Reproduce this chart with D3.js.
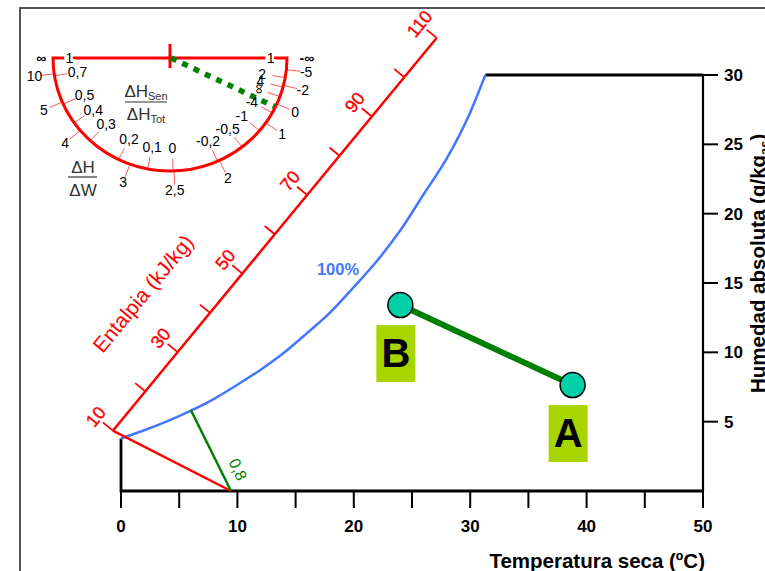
<!DOCTYPE html>
<html><head><meta charset="utf-8">
<script src="https://cdn.jsdelivr.net/npm/d3@7"></script>
<style>body{margin:0;background:#fff} svg{display:block} text{font-family:"Liberation Sans",Arial,sans-serif}</style>
</head><body><svg id="c" width="765" height="571"></svg>
<script>
// ---- data ----
const satTemp = [0,2,4,6,8,10,12,14,16,18,20,22,24,26,28,30,31.3];
const satHum  = [3.79,4.38,5.04,5.79,6.65,7.66,8.75,9.97,11.4,12.9,14.7,16.6,18.8,21.4,24.0,27.3,30];
const xTicks  = [0,5,10,15,20,25,30,35,40,45,50];
const xLabels = [0,10,20,30,40,50];
const yTicks  = [5,10,15,20,25,30];
const pointNames = ["A","B"];
const pointTemp  = [38.8, 24.0];
const pointHum   = [7.64, 13.41];
const enthalpyTicks  = [10,20,30,40,50,60,70,80,90,100,110];
const enthalpyLabels = [10,30,50,70,90,110];
const h10Temp = [-0.7, 9.45];
const h10Hum  = [4.35, 0];
const shfTemp = [6.0, 9.45];
const shfHum  = [5.84, 0];
const shfLabel = "0,8";
// protractor scales (angle in degrees along the half circle, 0 = left end)
const innerLabels = ["1","0,7","0,5","0,4","0,3","0,2","0,1","0","-0,2","-0,5","-1","-4","∞","4","2","1"];
const innerAngles = [0,9,24,35,47,64,79,91.5,114,128,140,151,160,165,170,180];
const outerLabels = ["∞","10","5","4","3","2,5","2","1","0","-2","-5","-∞"];
const outerAngles = [0,8,23,40,70,92,115,145,156,166,174,180];

// ---- drawing ----
const svg = d3.select("#c");
const x = d3.scaleLinear().domain([0,50]).range([121,703]);
const y = d3.scaleLinear().domain([0,30]).range([491,75]);

// outer frame
svg.append("path").attr("d","M20,571 L20,8 L765,8").attr("fill","none").attr("stroke","#555").attr("stroke-width",2);

const blk = {stroke:"#000","stroke-width":2.8,fill:"none"};
function line(pts, attrs){ const p = svg.append("path").attr("d", d3.line()(pts)); for (const k in attrs) p.attr(k, attrs[k]); return p; }
line([[x(0),y(satHum[0])],[x(0),y(0)],[x(50),y(0)]], blk);
line([[x(satTemp[satTemp.length-1]),y(30)],[x(50),y(30)]], blk);
line([[x(50),y(0)],[x(50),y(30)]], {stroke:"#000","stroke-width":2.2,fill:"none"});

// x axis ticks
xTicks.forEach(t => line([[x(t),y(0)],[x(t),y(0)+17]], {stroke:"#000","stroke-width":2}));
svg.selectAll(".xl").data(xLabels).enter().append("text")
  .attr("x", d=>x(d)).attr("y", 532).attr("text-anchor","middle")
  .attr("font-size",17).attr("font-weight","bold").text(d=>d);
svg.append("text").attr("x",705).attr("y",568).attr("text-anchor","end")
  .attr("font-size",20.5).attr("font-weight","bold").text("Temperatura seca (ºC)");

// y axis (right)
yTicks.forEach(t => line([[x(50),y(t)],[x(50)+15,y(t)]], {stroke:"#000","stroke-width":2}));
svg.selectAll(".yl").data(yTicks).enter().append("text")
  .attr("x", 724).attr("y", d=>y(d)+6).attr("font-size",17).attr("font-weight","bold").text(d=>d);
const yt = svg.append("text").attr("transform","translate(765,393) rotate(-90)")
  .attr("font-size",20.5).attr("font-weight","bold");
yt.append("tspan").text("Humedad absoluta (g/kg");
yt.append("tspan").attr("font-size",13).attr("dy",4).text("as");
yt.append("tspan").attr("dy",-4).text(")");

// saturation curve
const satPts = satTemp.map((t,i)=>[x(t),y(satHum[i])]);
svg.append("path").attr("d", d3.line().curve(d3.curveMonotoneX)(satPts))
  .attr("fill","none").attr("stroke","#4477ff").attr("stroke-width",2.5);
svg.append("text").attr("x",338).attr("y",275).attr("text-anchor","middle")
  .attr("font-size",16.5).attr("font-weight","bold").attr("fill","#4477ff").text("100%");

// enthalpy 10 line & SHF line
line(h10Temp.map((t,i)=>[x(t),y(h10Hum[i])]), {stroke:"#ff0000","stroke-width":2.5,fill:"none"});
line(shfTemp.map((t,i)=>[x(t),y(shfHum[i])]), {stroke:"#008000","stroke-width":2.5,fill:"none"});
{
  const mx = (x(shfTemp[0])+x(shfTemp[1]))/2, my = (y(shfHum[0])+y(shfHum[1]))/2;
  svg.append("text").attr("transform",`translate(${mx+27},${my+19}) rotate(65)`)
    .attr("text-anchor","middle").attr("dominant-baseline","central")
    .attr("font-size",16).attr("fill","#008000").text(shfLabel);
}

// enthalpy axis
{
  const ox = x(h10Temp[0]), oy = y(h10Hum[0]);
  const ang = -50.5*Math.PI/180;
  const ux = Math.cos(ang), uy = Math.sin(ang);
  const nx = uy, ny = -ux; // perpendicular to upper-left
  const hs = d3.scaleLinear().domain([10,110]).range([0,509]);
  const P = (h, off=0) => [ox + ux*hs(h) + nx*off, oy + uy*hs(h) + ny*off];
  line([P(10),P(110)], {stroke:"#ff0000","stroke-width":2.5,fill:"none"});
  enthalpyTicks.forEach(h => line([P(h),P(h,13)], {stroke:"#ff0000","stroke-width":1.8}));
  enthalpyLabels.forEach(h => {
    const p = P(h,22);
    svg.append("text").attr("transform",`translate(${p[0]},${p[1]}) rotate(-50.5)`)
      .attr("text-anchor","middle").attr("dominant-baseline","central")
      .attr("font-size",18).attr("fill","#ff0000").attr("stroke","#ff0000").attr("stroke-width",0.4).text(h);
  });
  const t = P(hs.invert(125),64);
  svg.append("text").attr("transform",`translate(${t[0]},${t[1]}) rotate(-50.5)`)
    .attr("text-anchor","middle").attr("dominant-baseline","central")
    .attr("font-size",21).attr("fill","#ff0000").text("Entalpia (kJ/kg)");
}

// process line A-B
const pts = pointTemp.map((t,i)=>[x(t),y(pointHum[i])]);
line(pts, {stroke:"#008000","stroke-width":6,fill:"none"});
pts.forEach((p,i)=>{
  svg.append("rect").attr("x",p[0]-24).attr("y",p[1]+20).attr("width",39).attr("height",57).attr("fill","#a8d400");
  svg.append("text").attr("x",p[0]-4.5).attr("y",p[1]+62).attr("text-anchor","middle")
    .attr("font-size",40).attr("font-weight","bold").text(pointNames[i]);
});
svg.selectAll(".pt").data(pts).enter().append("circle")
  .attr("cx",d=>d[0]).attr("cy",d=>d[1]).attr("r",12.5)
  .attr("fill","#00d0a8").attr("stroke","#000").attr("stroke-width",1.5);

// protractor
{
  const cx = 170, cy = 58, rx = 117, ry = 113;
  const E = (deg,k) => { const a = deg*Math.PI/180; return [cx - k*rx*Math.cos(a), cy + k*ry*Math.sin(a)]; };
  innerAngles.forEach(a => { if (a>0 && a<180) line([E(a,0.89),E(a,1)], {stroke:"#ff5a5a","stroke-width":1}); });
  outerAngles.forEach(a => { if (a>0 && a<180) line([E(a,1),E(a,1.12)], {stroke:"#ff5a5a","stroke-width":1}); });
  svg.append("path").attr("d",`M${cx-rx},${cy} A${rx},${ry} 0 0 0 ${cx+rx},${cy} Z`)
    .attr("fill","none").attr("stroke","#ff0000").attr("stroke-width",3);
  line([[cx,cy-14],[cx,cy+10]], {stroke:"#ff0000","stroke-width":3});
  const dx = pts[0][0]-pts[1][0], dy = pts[0][1]-pts[1][1];
  const dir = Math.atan2(dy,dx);
  const tt = 1/Math.sqrt((Math.cos(dir)/rx)**2 + (Math.sin(dir)/ry)**2);
  line([[cx+1,cy],[cx+Math.cos(dir)*tt*0.99, cy+Math.sin(dir)*tt*0.99]],
    {stroke:"#008000","stroke-width":5.5,"stroke-dasharray":"6,6.5",fill:"none"});
  innerLabels.forEach((l,i)=>{
    const a = innerAngles[i];
    const p = E(a, (a===0||a===180)?0.86:0.8);
    const t = svg.append("text").attr("x",p[0]).attr("y",p[1]).attr("text-anchor","middle")
      .attr("dominant-baseline","central").attr("font-size",14).text(l);
    if (a===0||a===180) t.attr("stroke","#fff").attr("stroke-width",5).attr("paint-order","stroke");
    if (l==="∞") t.attr("transform",`rotate(-90,${p[0]},${p[1]})`);
  });
  outerLabels.forEach((l,i)=>{
    const a = outerAngles[i];
    const p = E(a, (a===0)?1.1:1.17);
    svg.append("text").attr("x",p[0]).attr("y",p[1]).attr("text-anchor","middle")
      .attr("dominant-baseline","central").attr("font-size",14).attr("font-weight",l.includes("∞")?"bold":"normal").text(l);
  });
  const g = svg.append("g").attr("fill","#333");
  const n1 = g.append("text").attr("x",146).attr("y",97).attr("text-anchor","middle").attr("font-size",17);
  n1.append("tspan").text("ΔH"); n1.append("tspan").attr("font-size",11).attr("dy",3).text("Sen");
  line([[125,102],[167,102]], {stroke:"#333","stroke-width":1.2});
  const d1 = g.append("text").attr("x",146).attr("y",120).attr("text-anchor","middle").attr("font-size",17);
  d1.append("tspan").text("ΔH"); d1.append("tspan").attr("font-size",11).attr("dy",3).text("Tot");
  g.append("text").attr("x",83).attr("y",173).attr("text-anchor","middle").attr("font-size",17).text("ΔH");
  line([[68,177],[97,177]], {stroke:"#333","stroke-width":1.2});
  g.append("text").attr("x",83).attr("y",196).attr("text-anchor","middle").attr("font-size",17).text("ΔW");
}
</script></body></html>
